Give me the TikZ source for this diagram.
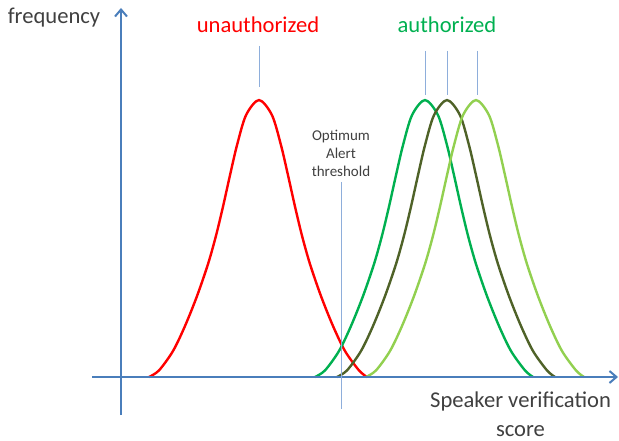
\documentclass[tikz,border=0pt]{standalone}
\usepackage{fontspec}
\setmainfont{Carlito}
\usetikzlibrary{arrows.meta}
\definecolor{axisblue}{HTML}{4A7EBB}
\definecolor{thinblue}{HTML}{8EAEDB}
\definecolor{txtgray}{HTML}{404040}
\definecolor{cred}{HTML}{FF0000}
\definecolor{cgreen}{HTML}{00B050}
\definecolor{colive}{HTML}{4F6228}
\definecolor{clight}{HTML}{92D050}
\tikzset{
  axisline/.style={draw=axisblue, line width=2.2pt, -{Straight Barb[length=7pt,width=12pt,line width=2pt]}},
  guide/.style={draw=thinblue, line width=1pt},
  curve/.style={line width=2.4pt, line join=round, line cap=round},
  bigtxt/.style={font=\fontsize{22.6}{29}\selectfont, inner sep=0pt},
  smalltxt/.style={font=\fontsize{15}{18}\selectfont, text=txtgray, align=center, inner sep=0pt}
}
\newcommand{\bell}[2]{% mu, color
  \draw[curve, #2] plot[smooth, tension=0.5] coordinates {
    ({#1-110},377) ({#1-100},370.4) ({#1-86},351) ({#1-74},326) ({#1-62},296.1)
    ({#1-51},264.1) ({#1-43},235.7) ({#1-36},206.6) ({#1-29},175.2) ({#1-22},145.2)
    ({#1-13},115.2) ({#1},100)
    ({#1+13},115.2) ({#1+22},145.2) ({#1+29},175.2) ({#1+36},206.6) ({#1+43},235.7)
    ({#1+51},264.1) ({#1+62},296.1) ({#1+74},326) ({#1+86},351) ({#1+100},370.4)
    ({#1+108},377)};
}
\begin{document}
\begin{tikzpicture}[x=1pt,y=-1pt]
\useasboundingbox (0,0) rectangle (619,441);
% curves
\bell{259}{cred}
\bell{425}{cgreen}
\bell{447}{colive}
\bell{476}{clight}
% axes
\coordinate (xs) at (92,377);
\coordinate (xe) at (618,377);
\coordinate (ys) at (121,415);
\coordinate (ye) at (121,8);
\draw[axisline] (xs) -- (xe);
\draw[axisline] (ys) -- (ye);
% labels
\node[bigtxt, text=txtgray, anchor=base] (freq) at (54,24) {frequency};
\node[bigtxt, text=cred, anchor=base] (unauth) at (258,33) {unauthorized};
\node[bigtxt, text=cgreen, anchor=base] (auth) at (447,33) {authorized};
\node[bigtxt, text=txtgray, align=center, anchor=center] (score) at (520.5,414.5) {Speaker verification\\score};
\node[smalltxt, anchor=center] (thr) at (341,153) {Optimum\\Alert\\threshold};
% guide lines
\coordinate (u1) at (259,46); \coordinate (u2) at (259,87);
\draw[guide] (u1) -- (u2);
\coordinate (a1) at (425,51); \coordinate (a2) at (425,95);
\coordinate (b1) at (447,51); \coordinate (b2) at (447,95);
\coordinate (c1) at (477,51); \coordinate (c2) at (477,95);
\draw[guide] (a1) -- (a2);
\draw[guide] (b1) -- (b2);
\draw[guide] (c1) -- (c2);
\coordinate (t1) at (341,182); \coordinate (t2) at (341,409);
\draw[guide] (t1) -- (t2);
\end{tikzpicture}
\end{document}
